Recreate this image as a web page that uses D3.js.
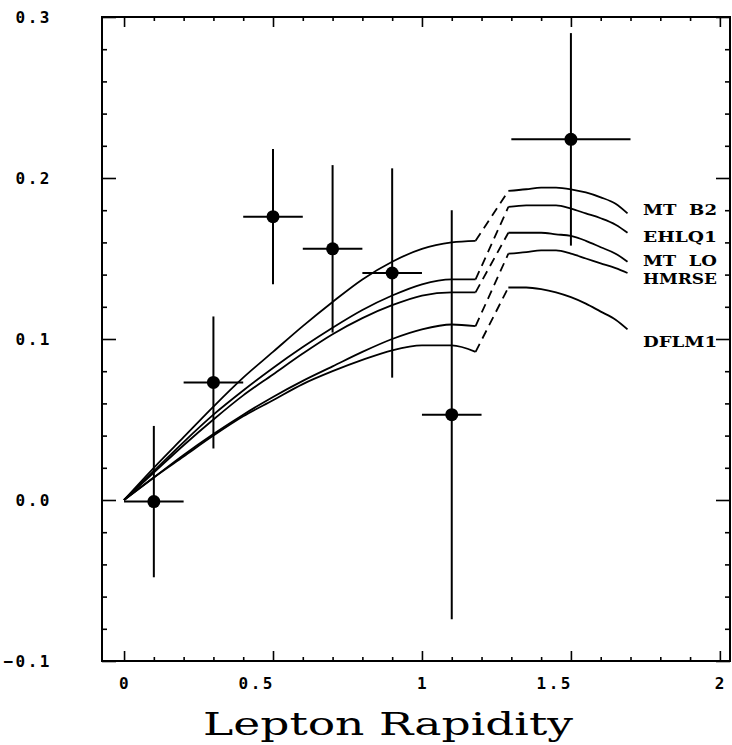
<!DOCTYPE html>
<html>
<head>
<meta charset="utf-8">
<script src="https://cdn.jsdelivr.net/npm/d3@7"></script>
<style>
  body { margin: 0; background: #fff; }
  svg { display: block; }
  .tick line { stroke: #000; stroke-width: 1.6; }
</style>
</head>
<body>
<div id="chart"></div>
<script>
// measured points with errors
var pointX = [0.1, 0.3, 0.5, 0.7, 0.9, 1.1, 1.5];
var pointY = [-0.001, 0.073, 0.176, 0.156, 0.141, 0.053, 0.224];
var pointXErr = [0.1, 0.1, 0.1, 0.1, 0.1, 0.1, 0.2];
var pointYErr = [0.047, 0.041, 0.042, 0.052, 0.065, 0.127, 0.066];

// theory curves, two pieces each
var leftX = [0, 0.1, 0.2, 0.3, 0.4, 0.5, 0.6, 0.7, 0.8, 0.9, 1.0, 1.1, 1.18];
var rightX = [1.29, 1.35, 1.4, 1.45, 1.5, 1.55, 1.6, 1.65, 1.69];

var curveNames = ["MT  B2", "EHLQ1", "MT  LO", "HMRSE", "DFLM1"];
var mtb2Left = [0, 0.020, 0.039, 0.058, 0.076, 0.092, 0.108, 0.123, 0.137, 0.148, 0.156, 0.160, 0.161];
var ehlqLeft = [0, 0.018, 0.036, 0.053, 0.068, 0.082, 0.095, 0.107, 0.118, 0.127, 0.134, 0.137, 0.137];
var mtloLeft = [0, 0.017, 0.034, 0.050, 0.065, 0.078, 0.091, 0.103, 0.113, 0.121, 0.127, 0.129, 0.129];
var hmrseLeft = [0, 0.014, 0.028, 0.041, 0.053, 0.064, 0.074, 0.083, 0.092, 0.100, 0.106, 0.109, 0.108];
var dflmLeft = [0, 0.014, 0.027, 0.040, 0.052, 0.062, 0.072, 0.080, 0.087, 0.093, 0.096, 0.096, 0.092];

var mtb2Right = [0.192, 0.193, 0.194, 0.194, 0.193, 0.191, 0.188, 0.184, 0.178];
var ehlqRight = [0.182, 0.183, 0.183, 0.183, 0.181, 0.178, 0.175, 0.171, 0.166];
var mtloRight = [0.166, 0.166, 0.166, 0.165, 0.164, 0.161, 0.157, 0.153, 0.148];
var hmrseRight = [0.153, 0.154, 0.155, 0.155, 0.153, 0.150, 0.147, 0.144, 0.141];
var dflmRight = [0.132, 0.132, 0.131, 0.129, 0.126, 0.122, 0.117, 0.112, 0.106];

var labelY = [0.181, 0.164, 0.149, 0.138, 0.099];

var yMajor = [-0.1, 0, 0.1, 0.2, 0.3];
var yLabels = ["\u22120.1", "0.0", "0.1", "0.2", "0.3"];
var xMajor = [0, 0.5, 1, 1.5, 2];
var xLabels = ["0", "0.5", "1", "1.5", "2"];

var width = 732;
var height = 745;

var xScale = d3.scaleLinear().domain([-0.074, 2.034]).range([102, 730]);
var yScale = d3.scaleLinear().domain([-0.1, 0.3]).range([661, 17]);

var svg = d3
  .select("#chart")
  .append("svg")
  .attr("width", width)
  .attr("height", height);

var yMinor = d3.range(-0.1, 0.3001, 0.02).filter(function(v) {
  return Math.abs(Math.round(v * 10) - v * 10) > 0.01;
});
var xMinor = d3.range(0, 2.0001, 0.1).filter(function(v) {
  return Math.abs(Math.round(v * 2) - v * 2) > 0.01;
});

function tickAxis(axis, size, values, transform) {
  var g = svg
    .append("g")
    .attr("transform", transform)
    .call(axis.tickValues(values).tickSize(size).tickSizeOuter(0).tickFormat(""));
  g.select(".domain").remove();
}

// left + right
tickAxis(d3.axisRight(yScale), 14, yMajor, "translate(102,0)");
tickAxis(d3.axisRight(yScale), 5, yMinor, "translate(102,0)");
tickAxis(d3.axisLeft(yScale), 14, yMajor, "translate(730,0)");
tickAxis(d3.axisLeft(yScale), 5, yMinor, "translate(730,0)");
// bottom + top
tickAxis(d3.axisTop(xScale), 10, xMajor, "translate(0,661)");
tickAxis(d3.axisTop(xScale), 4, xMinor, "translate(0,661)");
tickAxis(d3.axisBottom(xScale), 10, xMajor, "translate(0,17)");
tickAxis(d3.axisBottom(xScale), 4, xMinor, "translate(0,17)");

svg
  .append("rect")
  .attr("x", 102)
  .attr("y", 17)
  .attr("width", 628)
  .attr("height", 644)
  .attr("fill", "none")
  .attr("stroke", "#000")
  .attr("stroke-width", 2);

// tick labels
svg
  .selectAll(".ylab")
  .data(yMajor)
  .enter()
  .append("text")
  .attr("class", "ylab")
  .attr("x", 52)
  .attr("y", function(d) {
    return yScale(d) + 6;
  })
  .attr("text-anchor", "end")
  .style("font-family", "DejaVu Sans Mono")
  .style("font-size", "16px")
  .style("font-weight", "bold")
  .style("letter-spacing", "2.5px")
  .text(function(d, i) {
    return yLabels[i];
  });

svg
  .selectAll(".xlab")
  .data(xMajor)
  .enter()
  .append("text")
  .attr("class", "xlab")
  .attr("x", function(d, i) {
    if (xLabels[i].length > 1) return xScale(d) + 2;
    return xScale(d) + 1;
  })
  .attr("y", 689)
  .attr("text-anchor", function(d, i) {
    return xLabels[i].length > 1 ? "end" : "middle";
  })
  .style("font-family", "DejaVu Sans Mono")
  .style("font-size", "16px")
  .style("font-weight", "bold")
  .style("letter-spacing", "2.5px")
  .text(function(d, i) {
    return xLabels[i];
  });

svg
  .append("text")
  .attr("x", 203)
  .attr("y", 735)
  .attr("textLength", 370)
  .attr("lengthAdjust", "spacingAndGlyphs")
  .style("font-family", "DejaVu Serif")
  .style("font-size", "31px")
  .text("Lepton Rapidity");

// curves
var lefts = [mtb2Left, ehlqLeft, mtloLeft, hmrseLeft, dflmLeft];
var rights = [mtb2Right, ehlqRight, mtloRight, hmrseRight, dflmRight];

var line = d3
  .line()
  .x(function(d) {
    return xScale(d[0]);
  })
  .y(function(d) {
    return yScale(d[1]);
  })
  .curve(d3.curveMonotoneX);

var straight = d3
  .line()
  .x(function(d) {
    return xScale(d[0]);
  })
  .y(function(d) {
    return yScale(d[1]);
  });

lefts.forEach(function(vals, k) {
  var leftPts = leftX.map(function(x, i) {
    return [x, vals[i]];
  });
  var rightPts = rightX.map(function(x, i) {
    return [x, rights[k][i]];
  });
  svg
    .append("path")
    .attr("d", line(leftPts))
    .attr("fill", "none")
    .attr("stroke", "#000")
    .attr("stroke-width", 1.8);
  svg
    .append("path")
    .attr("d", line(rightPts))
    .attr("fill", "none")
    .attr("stroke", "#000")
    .attr("stroke-width", 1.8);
  svg
    .append("path")
    .attr("d", straight([leftPts[leftPts.length - 1], rightPts[0]]))
    .attr("fill", "none")
    .attr("stroke", "#000")
    .attr("stroke-width", 1.8)
    .attr("stroke-dasharray", "9,6");
  svg
    .append("text")
    .attr("x", 643)
    .attr("y", yScale(labelY[k]) + 6)
    .attr("textLength", 74)
    .attr("lengthAdjust", "spacingAndGlyphs")
    .style("white-space", "pre")
    .style("font-family", "DejaVu Serif")
    .style("font-size", "15px")
    .style("font-weight", "bold")
    .text(curveNames[k]);
});

// data points
var pts = pointX.map(function(x, i) {
  return { x: x, y: pointY[i], ex: pointXErr[i], ey: pointYErr[i] };
});

svg
  .selectAll(".hbar")
  .data(pts)
  .enter()
  .append("line")
  .attr("x1", function(d) { return xScale(d.x - d.ex); })
  .attr("x2", function(d) { return xScale(d.x + d.ex); })
  .attr("y1", function(d) { return yScale(d.y); })
  .attr("y2", function(d) { return yScale(d.y); })
  .attr("stroke", "#000")
  .attr("stroke-width", 2);

svg
  .selectAll(".vbar")
  .data(pts)
  .enter()
  .append("line")
  .attr("x1", function(d) { return xScale(d.x); })
  .attr("x2", function(d) { return xScale(d.x); })
  .attr("y1", function(d) { return yScale(d.y - d.ey); })
  .attr("y2", function(d) { return yScale(d.y + d.ey); })
  .attr("stroke", "#000")
  .attr("stroke-width", 2);

svg
  .selectAll(".dot")
  .data(pts)
  .enter()
  .append("circle")
  .attr("cx", function(d) { return xScale(d.x); })
  .attr("cy", function(d) { return yScale(d.y); })
  .attr("r", 6.5)
  .attr("fill", "#000");
</script>
</body>
</html>
